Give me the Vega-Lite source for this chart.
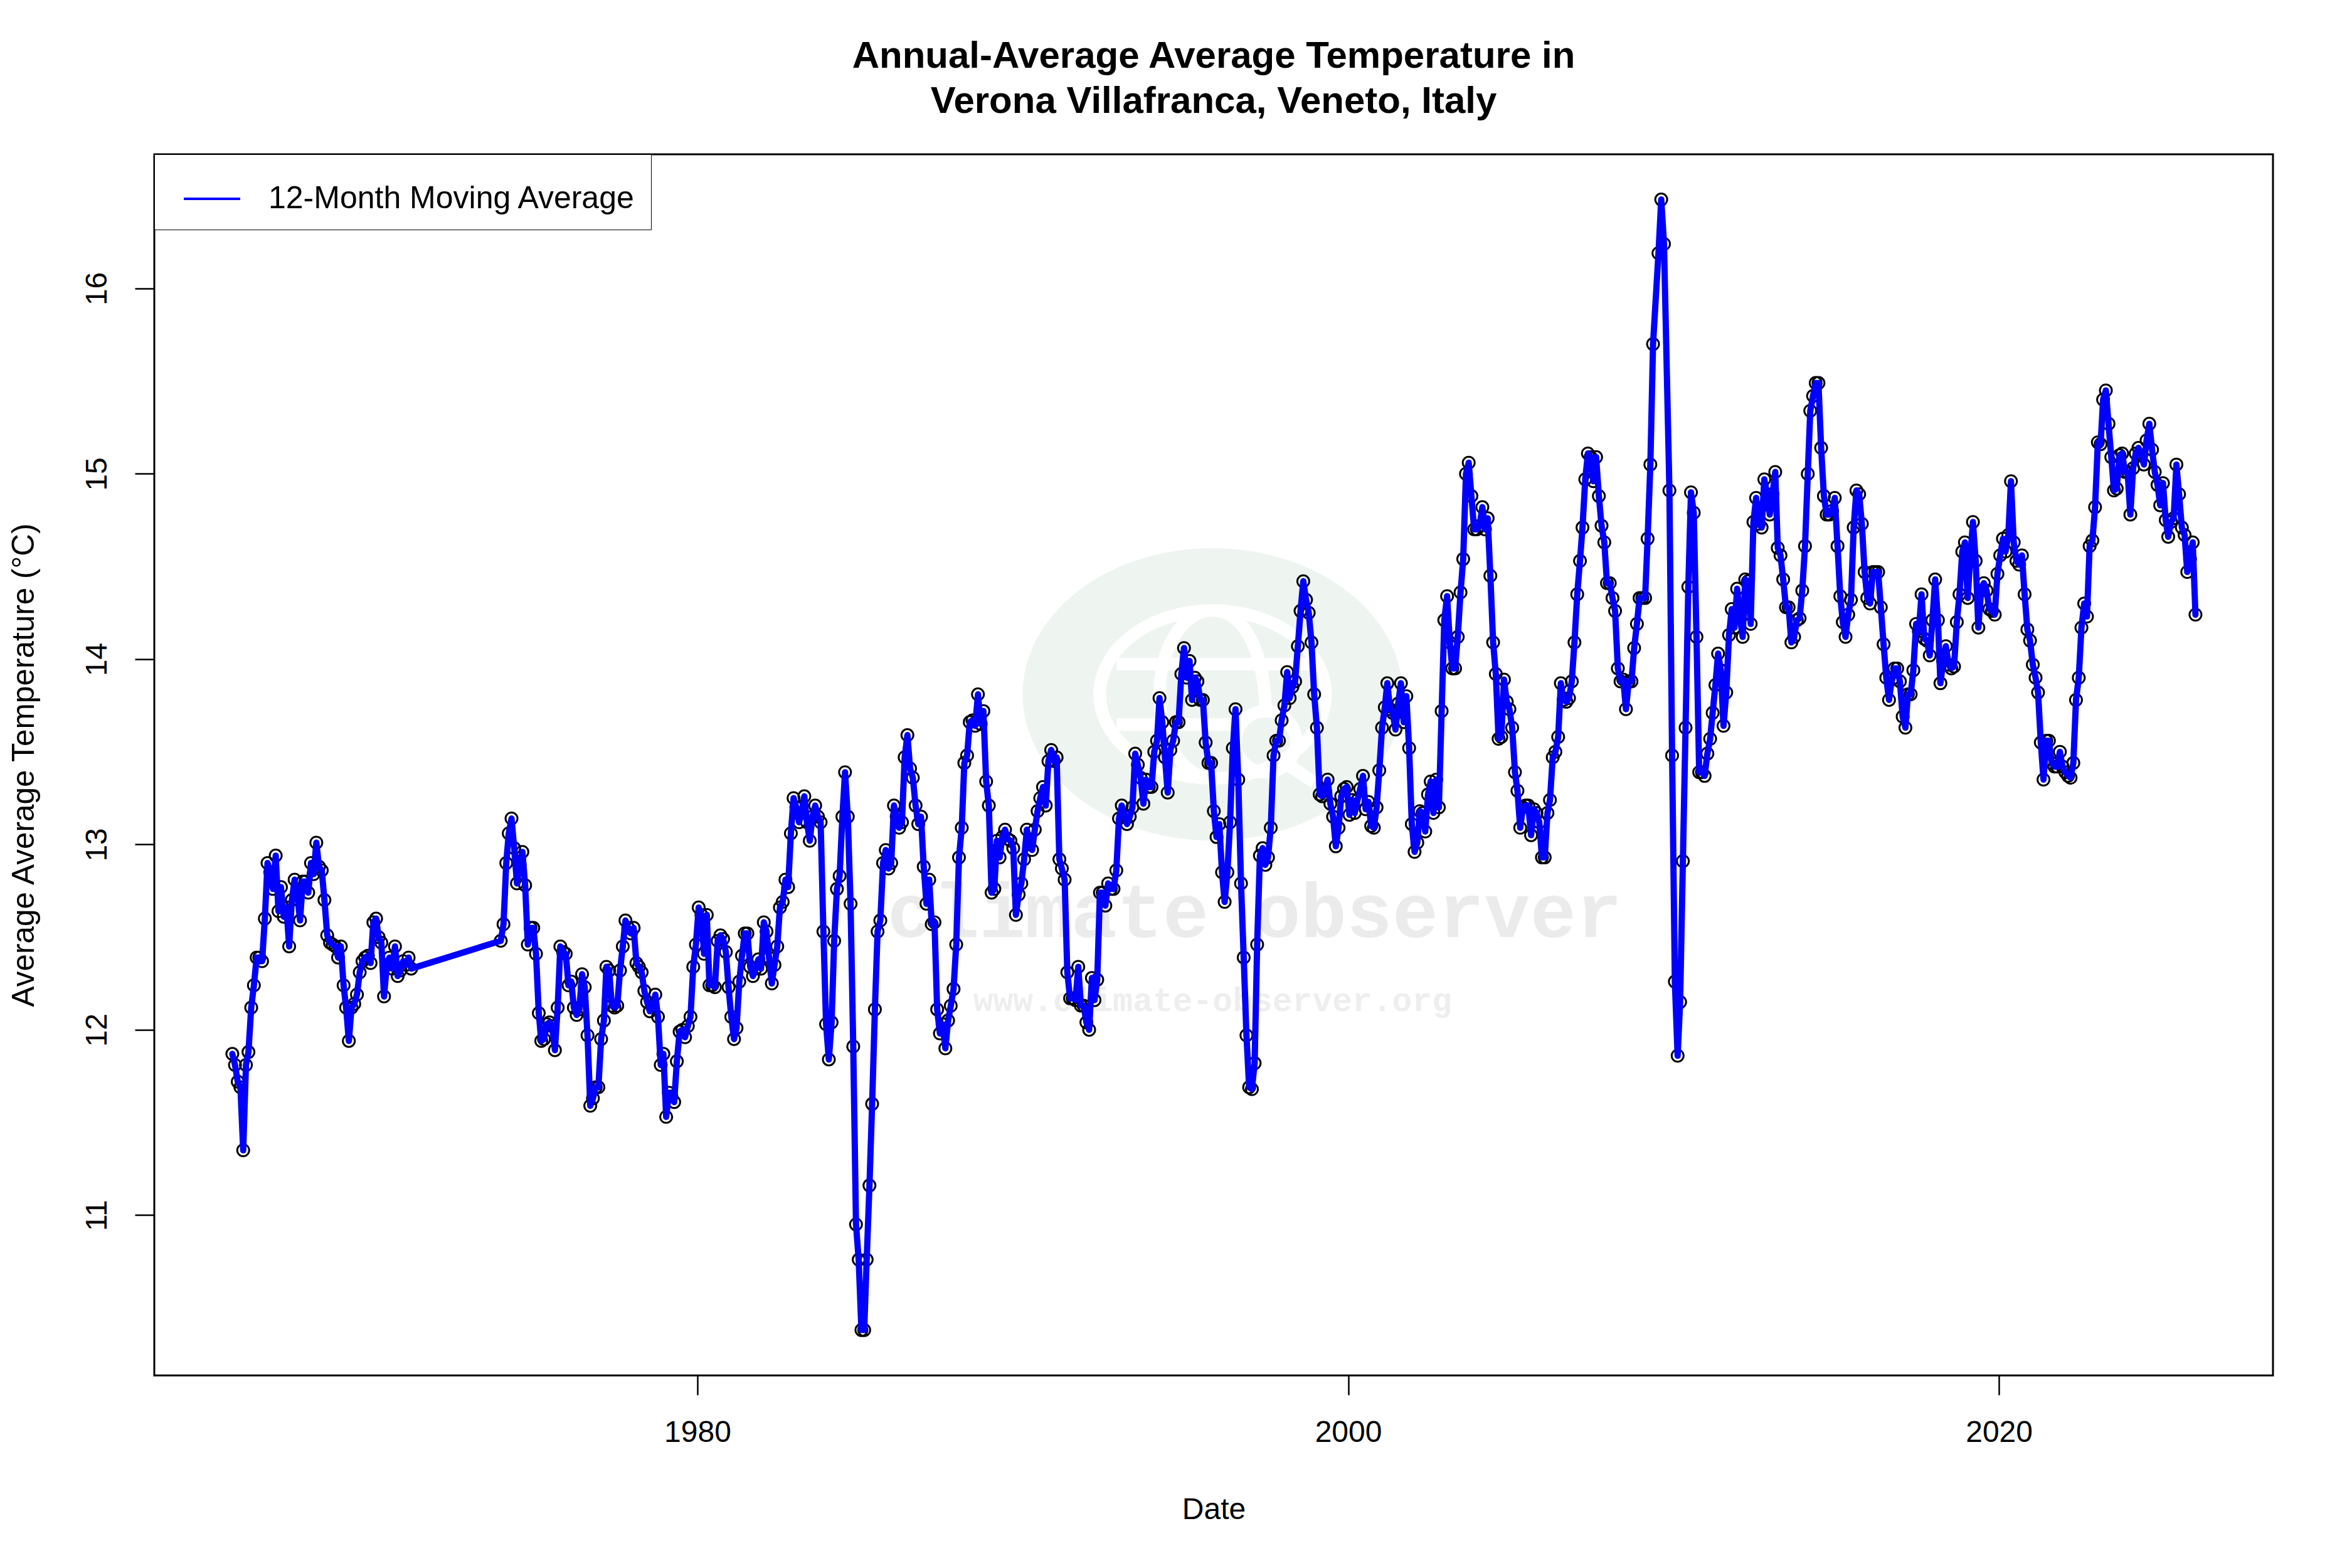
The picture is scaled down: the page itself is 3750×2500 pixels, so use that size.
{"$schema":"https://vega.github.io/schema/vega-lite/v6.json","width":3378,"height":1947,"autosize":{"type":"none"},"padding":{"left":246,"top":246,"right":126,"bottom":307},"background":"white","config":{"font":"Liberation Sans","view":{"stroke":"black","strokeWidth":3}},"title":{"text":["Annual-Average Average Temperature in","Verona Villafranca, Veneto, Italy"],"fontSize":60,"fontWeight":"bold","font":"Liberation Sans","lineHeight":72,"anchor":"middle","offset":53,"color":"black"},"datasets":{"logo":[{"d":"1995-11-01","v":13.81}],"wm1":[{"d":"1997-02-15","v":12.5,"t":"climate observer"}],"wm2":[{"d":"1995-11-01","v":12.1,"t":"www.climate-observer.org"}],"temps":[
{"d":"1965-09-15","v":11.87},{"d":"1965-10-15","v":11.81},{"d":"1965-11-15","v":11.72},{"d":"1965-12-15","v":11.69},
{"d":"1966-01-15","v":11.35},{"d":"1966-02-15","v":11.81},{"d":"1966-03-15","v":11.88},{"d":"1966-04-15","v":12.12},{"d":"1966-05-15","v":12.24},{"d":"1966-06-15","v":12.39},{"d":"1966-07-15","v":12.39},{"d":"1966-08-15","v":12.37},{"d":"1966-09-15","v":12.6},{"d":"1966-10-15","v":12.9},{"d":"1966-11-15","v":12.85},{"d":"1966-12-15","v":12.76},
{"d":"1967-01-15","v":12.94},{"d":"1967-02-15","v":12.64},{"d":"1967-03-15","v":12.77},{"d":"1967-04-15","v":12.61},{"d":"1967-05-15","v":12.66},{"d":"1967-06-15","v":12.45},{"d":"1967-07-15","v":12.7},{"d":"1967-08-15","v":12.81},{"d":"1967-09-15","v":12.73},{"d":"1967-10-15","v":12.59},{"d":"1967-11-15","v":12.8},{"d":"1967-12-15","v":12.8},
{"d":"1968-01-15","v":12.74},{"d":"1968-02-15","v":12.9},{"d":"1968-03-15","v":12.84},{"d":"1968-04-15","v":13.01},{"d":"1968-05-15","v":12.88},{"d":"1968-06-15","v":12.86},{"d":"1968-07-15","v":12.7},{"d":"1968-08-15","v":12.51},{"d":"1968-09-15","v":12.47},{"d":"1968-10-15","v":12.46},{"d":"1968-11-15","v":12.45},{"d":"1968-12-15","v":12.39},
{"d":"1969-01-15","v":12.45},{"d":"1969-02-15","v":12.24},{"d":"1969-03-15","v":12.12},{"d":"1969-04-15","v":11.94},{"d":"1969-05-15","v":12.12},{"d":"1969-06-15","v":12.14},{"d":"1969-07-15","v":12.19},{"d":"1969-08-15","v":12.31},{"d":"1969-09-15","v":12.37},{"d":"1969-10-15","v":12.39},{"d":"1969-11-15","v":12.4},{"d":"1969-12-15","v":12.36},
{"d":"1970-01-15","v":12.58},{"d":"1970-02-15","v":12.6},{"d":"1970-03-15","v":12.5},{"d":"1970-04-15","v":12.47},{"d":"1970-05-15","v":12.18},{"d":"1970-06-15","v":12.35},{"d":"1970-07-15","v":12.39},{"d":"1970-08-15","v":12.33},{"d":"1970-09-15","v":12.45},{"d":"1970-10-15","v":12.29},{"d":"1970-11-15","v":12.32},{"d":"1970-12-15","v":12.37},
{"d":"1971-01-15","v":12.35},{"d":"1971-02-15","v":12.39},{"d":"1971-03-15","v":12.33},
{"d":"1973-12-15","v":12.48},
{"d":"1974-01-15","v":12.57},{"d":"1974-02-15","v":12.9},{"d":"1974-03-15","v":13.06},{"d":"1974-04-15","v":13.14},{"d":"1974-05-15","v":12.98},{"d":"1974-06-15","v":12.79},{"d":"1974-07-15","v":12.89},{"d":"1974-08-15","v":12.96},{"d":"1974-09-15","v":12.78},{"d":"1974-10-15","v":12.46},{"d":"1974-11-15","v":12.55},{"d":"1974-12-15","v":12.55},
{"d":"1975-01-15","v":12.41},{"d":"1975-02-15","v":12.09},{"d":"1975-03-15","v":11.94},{"d":"1975-04-15","v":11.95},{"d":"1975-05-15","v":12.03},{"d":"1975-06-15","v":12.04},{"d":"1975-07-15","v":12.02},{"d":"1975-08-15","v":11.89},{"d":"1975-09-15","v":12.12},{"d":"1975-10-15","v":12.45},{"d":"1975-11-15","v":12.42},{"d":"1975-12-15","v":12.41},
{"d":"1976-01-15","v":12.24},{"d":"1976-02-15","v":12.26},{"d":"1976-03-15","v":12.12},{"d":"1976-04-15","v":12.08},{"d":"1976-05-15","v":12.11},{"d":"1976-06-15","v":12.3},{"d":"1976-07-15","v":12.23},{"d":"1976-08-15","v":11.97},{"d":"1976-09-15","v":11.59},{"d":"1976-10-15","v":11.63},{"d":"1976-11-15","v":11.69},{"d":"1976-12-15","v":11.69},
{"d":"1977-01-15","v":11.95},{"d":"1977-02-15","v":12.05},{"d":"1977-03-15","v":12.34},{"d":"1977-04-15","v":12.32},{"d":"1977-05-15","v":12.13},{"d":"1977-06-15","v":12.12},{"d":"1977-07-15","v":12.13},{"d":"1977-08-15","v":12.32},{"d":"1977-09-15","v":12.45},{"d":"1977-10-15","v":12.59},{"d":"1977-11-15","v":12.55},{"d":"1977-12-15","v":12.52},
{"d":"1978-01-15","v":12.55},{"d":"1978-02-15","v":12.36},{"d":"1978-03-15","v":12.34},{"d":"1978-04-15","v":12.31},{"d":"1978-05-15","v":12.21},{"d":"1978-06-15","v":12.15},{"d":"1978-07-15","v":12.1},{"d":"1978-08-15","v":12.13},{"d":"1978-09-15","v":12.19},{"d":"1978-10-15","v":12.07},{"d":"1978-11-15","v":11.81},{"d":"1978-12-15","v":11.87},
{"d":"1979-01-15","v":11.53},{"d":"1979-02-15","v":11.66},{"d":"1979-03-15","v":11.64},{"d":"1979-04-15","v":11.61},{"d":"1979-05-15","v":11.83},{"d":"1979-06-15","v":11.99},{"d":"1979-07-15","v":12.0},{"d":"1979-08-15","v":11.96},{"d":"1979-09-15","v":12.02},{"d":"1979-10-15","v":12.07},{"d":"1979-11-15","v":12.34},{"d":"1979-12-15","v":12.46},
{"d":"1980-01-15","v":12.66},{"d":"1980-02-15","v":12.62},{"d":"1980-03-15","v":12.41},{"d":"1980-04-15","v":12.62},{"d":"1980-05-15","v":12.24},{"d":"1980-06-15","v":12.24},{"d":"1980-07-15","v":12.23},{"d":"1980-08-15","v":12.48},{"d":"1980-09-15","v":12.51},{"d":"1980-10-15","v":12.49},{"d":"1980-11-15","v":12.42},{"d":"1980-12-15","v":12.23},
{"d":"1981-01-15","v":12.07},{"d":"1981-02-15","v":11.95},{"d":"1981-03-15","v":12.01},{"d":"1981-04-15","v":12.26},{"d":"1981-05-15","v":12.4},{"d":"1981-06-15","v":12.52},{"d":"1981-07-15","v":12.52},{"d":"1981-08-15","v":12.34},{"d":"1981-09-15","v":12.29},{"d":"1981-10-15","v":12.33},{"d":"1981-11-15","v":12.38},{"d":"1981-12-15","v":12.33},
{"d":"1982-01-15","v":12.58},{"d":"1982-02-15","v":12.53},{"d":"1982-03-15","v":12.39},{"d":"1982-04-15","v":12.25},{"d":"1982-05-15","v":12.35},{"d":"1982-06-15","v":12.45},{"d":"1982-07-15","v":12.66},{"d":"1982-08-15","v":12.69},{"d":"1982-09-15","v":12.81},{"d":"1982-10-15","v":12.77},{"d":"1982-11-15","v":13.06},{"d":"1982-12-15","v":13.25},
{"d":"1983-01-15","v":13.2},{"d":"1983-02-15","v":13.12},{"d":"1983-03-15","v":13.17},{"d":"1983-04-15","v":13.26},{"d":"1983-05-15","v":13.12},{"d":"1983-06-15","v":13.02},{"d":"1983-07-15","v":13.15},{"d":"1983-08-15","v":13.21},{"d":"1983-09-15","v":13.15},{"d":"1983-10-15","v":13.12},{"d":"1983-11-15","v":12.53},{"d":"1983-12-15","v":12.03},
{"d":"1984-01-15","v":11.84},{"d":"1984-02-15","v":12.04},{"d":"1984-03-15","v":12.48},{"d":"1984-04-15","v":12.76},{"d":"1984-05-15","v":12.83},{"d":"1984-06-15","v":13.15},{"d":"1984-07-15","v":13.39},{"d":"1984-08-15","v":13.15},{"d":"1984-09-15","v":12.68},{"d":"1984-10-15","v":11.91},{"d":"1984-11-15","v":10.95},{"d":"1984-12-15","v":10.76},
{"d":"1985-01-15","v":10.38},{"d":"1985-02-15","v":10.38},{"d":"1985-03-15","v":10.76},{"d":"1985-04-15","v":11.16},{"d":"1985-05-15","v":11.6},{"d":"1985-06-15","v":12.11},{"d":"1985-07-15","v":12.53},{"d":"1985-08-15","v":12.59},{"d":"1985-09-15","v":12.9},{"d":"1985-10-15","v":12.97},{"d":"1985-11-15","v":12.87},{"d":"1985-12-15","v":12.9},
{"d":"1986-01-15","v":13.21},{"d":"1986-02-15","v":13.15},{"d":"1986-03-15","v":13.09},{"d":"1986-04-15","v":13.12},{"d":"1986-05-15","v":13.47},{"d":"1986-06-15","v":13.59},{"d":"1986-07-15","v":13.41},{"d":"1986-08-15","v":13.36},{"d":"1986-09-15","v":13.21},{"d":"1986-10-15","v":13.11},{"d":"1986-11-15","v":13.15},{"d":"1986-12-15","v":12.88},
{"d":"1987-01-15","v":12.68},{"d":"1987-02-15","v":12.81},{"d":"1987-03-15","v":12.57},{"d":"1987-04-15","v":12.58},{"d":"1987-05-15","v":12.11},{"d":"1987-06-15","v":11.98},{"d":"1987-07-15","v":12.03},{"d":"1987-08-15","v":11.9},{"d":"1987-09-15","v":12.05},{"d":"1987-10-15","v":12.13},{"d":"1987-11-15","v":12.22},{"d":"1987-12-15","v":12.46},
{"d":"1988-01-15","v":12.93},{"d":"1988-02-15","v":13.09},{"d":"1988-03-15","v":13.44},{"d":"1988-04-15","v":13.48},{"d":"1988-05-15","v":13.66},{"d":"1988-06-15","v":13.67},{"d":"1988-07-15","v":13.64},{"d":"1988-08-15","v":13.81},{"d":"1988-09-15","v":13.65},{"d":"1988-10-15","v":13.72},{"d":"1988-11-15","v":13.34},{"d":"1988-12-15","v":13.21},
{"d":"1989-01-15","v":12.74},{"d":"1989-02-15","v":12.76},{"d":"1989-03-15","v":13.02},{"d":"1989-04-15","v":12.93},{"d":"1989-05-15","v":13.04},{"d":"1989-06-15","v":13.08},{"d":"1989-07-15","v":13.03},{"d":"1989-08-15","v":13.02},{"d":"1989-09-15","v":12.98},{"d":"1989-10-15","v":12.62},{"d":"1989-11-15","v":12.73},{"d":"1989-12-15","v":12.79},
{"d":"1990-01-15","v":12.92},{"d":"1990-02-15","v":13.08},{"d":"1990-03-15","v":13.0},{"d":"1990-04-15","v":12.97},{"d":"1990-05-15","v":13.08},{"d":"1990-06-15","v":13.18},{"d":"1990-07-15","v":13.25},{"d":"1990-08-15","v":13.31},{"d":"1990-09-15","v":13.21},{"d":"1990-10-15","v":13.45},{"d":"1990-11-15","v":13.51},{"d":"1990-12-15","v":13.45},
{"d":"1991-01-15","v":13.47},{"d":"1991-02-15","v":12.92},{"d":"1991-03-15","v":12.87},{"d":"1991-04-15","v":12.81},{"d":"1991-05-15","v":12.31},{"d":"1991-06-15","v":12.17},{"d":"1991-07-15","v":12.17},{"d":"1991-08-15","v":12.16},{"d":"1991-09-15","v":12.34},{"d":"1991-10-15","v":12.13},{"d":"1991-11-15","v":12.13},{"d":"1991-12-15","v":12.04},
{"d":"1992-01-15","v":12.0},{"d":"1992-02-15","v":12.28},{"d":"1992-03-15","v":12.16},{"d":"1992-04-15","v":12.27},{"d":"1992-05-15","v":12.74},{"d":"1992-06-15","v":12.74},{"d":"1992-07-15","v":12.67},{"d":"1992-08-15","v":12.79},{"d":"1992-09-15","v":12.76},{"d":"1992-10-15","v":12.76},{"d":"1992-11-15","v":12.86},{"d":"1992-12-15","v":13.14},
{"d":"1993-01-15","v":13.21},{"d":"1993-02-15","v":13.16},{"d":"1993-03-15","v":13.11},{"d":"1993-04-15","v":13.15},{"d":"1993-05-15","v":13.2},{"d":"1993-06-15","v":13.49},{"d":"1993-07-15","v":13.43},{"d":"1993-08-15","v":13.36},{"d":"1993-09-15","v":13.22},{"d":"1993-10-15","v":13.35},{"d":"1993-11-15","v":13.31},{"d":"1993-12-15","v":13.31},
{"d":"1994-01-15","v":13.5},{"d":"1994-02-15","v":13.56},{"d":"1994-03-15","v":13.79},{"d":"1994-04-15","v":13.66},{"d":"1994-05-15","v":13.47},{"d":"1994-06-15","v":13.28},{"d":"1994-07-15","v":13.51},{"d":"1994-08-15","v":13.56},{"d":"1994-09-15","v":13.66},{"d":"1994-10-15","v":13.66},{"d":"1994-11-15","v":13.92},{"d":"1994-12-15","v":14.06},
{"d":"1995-01-15","v":13.9},{"d":"1995-02-15","v":13.99},{"d":"1995-03-15","v":13.78},{"d":"1995-04-15","v":13.9},{"d":"1995-05-15","v":13.88},{"d":"1995-06-15","v":13.78},{"d":"1995-07-15","v":13.78},{"d":"1995-08-15","v":13.55},{"d":"1995-09-15","v":13.44},{"d":"1995-10-15","v":13.44},{"d":"1995-11-15","v":13.18},{"d":"1995-12-15","v":13.04},
{"d":"1996-01-15","v":13.11},{"d":"1996-02-15","v":12.85},{"d":"1996-03-15","v":12.69},{"d":"1996-04-15","v":12.85},{"d":"1996-05-15","v":13.12},{"d":"1996-06-15","v":13.52},{"d":"1996-07-15","v":13.73},{"d":"1996-08-15","v":13.35},{"d":"1996-09-15","v":12.79},{"d":"1996-10-15","v":12.39},{"d":"1996-11-15","v":11.97},{"d":"1996-12-15","v":11.69},
{"d":"1997-01-15","v":11.68},{"d":"1997-02-15","v":11.82},{"d":"1997-03-15","v":12.46},{"d":"1997-04-15","v":12.94},{"d":"1997-05-15","v":12.98},{"d":"1997-06-15","v":12.89},{"d":"1997-07-15","v":12.93},{"d":"1997-08-15","v":13.09},{"d":"1997-09-15","v":13.48},{"d":"1997-10-15","v":13.56},{"d":"1997-11-15","v":13.56},{"d":"1997-12-15","v":13.67},
{"d":"1998-01-15","v":13.75},{"d":"1998-02-15","v":13.93},{"d":"1998-03-15","v":13.79},{"d":"1998-04-15","v":13.85},{"d":"1998-05-15","v":13.88},{"d":"1998-06-15","v":14.07},{"d":"1998-07-15","v":14.26},{"d":"1998-08-15","v":14.42},{"d":"1998-09-15","v":14.32},{"d":"1998-10-15","v":14.25},{"d":"1998-11-15","v":14.09},{"d":"1998-12-15","v":13.81},
{"d":"1999-01-15","v":13.63},{"d":"1999-02-15","v":13.27},{"d":"1999-03-15","v":13.26},{"d":"1999-04-15","v":13.29},{"d":"1999-05-15","v":13.35},{"d":"1999-06-15","v":13.22},{"d":"1999-07-15","v":13.15},{"d":"1999-08-15","v":12.99},{"d":"1999-09-15","v":13.09},{"d":"1999-10-15","v":13.26},{"d":"1999-11-15","v":13.3},{"d":"1999-12-15","v":13.31},
{"d":"2000-01-15","v":13.16},{"d":"2000-02-15","v":13.24},{"d":"2000-03-15","v":13.17},{"d":"2000-04-15","v":13.24},{"d":"2000-05-15","v":13.3},{"d":"2000-06-15","v":13.37},{"d":"2000-07-15","v":13.19},{"d":"2000-08-15","v":13.23},{"d":"2000-09-15","v":13.1},{"d":"2000-10-15","v":13.09},{"d":"2000-11-15","v":13.2},{"d":"2000-12-15","v":13.4},
{"d":"2001-01-15","v":13.63},{"d":"2001-02-15","v":13.74},{"d":"2001-03-15","v":13.87},{"d":"2001-04-15","v":13.73},{"d":"2001-05-15","v":13.71},{"d":"2001-06-15","v":13.62},{"d":"2001-07-15","v":13.76},{"d":"2001-08-15","v":13.87},{"d":"2001-09-15","v":13.66},{"d":"2001-10-15","v":13.8},{"d":"2001-11-15","v":13.52},{"d":"2001-12-15","v":13.11},
{"d":"2002-01-15","v":12.96},{"d":"2002-02-15","v":13.01},{"d":"2002-03-15","v":13.18},{"d":"2002-04-15","v":13.17},{"d":"2002-05-15","v":13.07},{"d":"2002-06-15","v":13.27},{"d":"2002-07-15","v":13.34},{"d":"2002-08-15","v":13.17},{"d":"2002-09-15","v":13.35},{"d":"2002-10-15","v":13.2},{"d":"2002-11-15","v":13.72},{"d":"2002-12-15","v":14.21},
{"d":"2003-01-15","v":14.34},{"d":"2003-02-15","v":14.09},{"d":"2003-03-15","v":13.95},{"d":"2003-04-15","v":13.95},{"d":"2003-05-15","v":14.12},{"d":"2003-06-15","v":14.36},{"d":"2003-07-15","v":14.54},{"d":"2003-08-15","v":15.0},{"d":"2003-09-15","v":15.06},{"d":"2003-10-15","v":14.88},{"d":"2003-11-15","v":14.7},{"d":"2003-12-15","v":14.7},
{"d":"2004-01-15","v":14.72},{"d":"2004-02-15","v":14.82},{"d":"2004-03-15","v":14.7},{"d":"2004-04-15","v":14.76},{"d":"2004-05-15","v":14.45},{"d":"2004-06-15","v":14.09},{"d":"2004-07-15","v":13.92},{"d":"2004-08-15","v":13.57},{"d":"2004-09-15","v":13.58},{"d":"2004-10-15","v":13.89},{"d":"2004-11-15","v":13.77},{"d":"2004-12-15","v":13.73},
{"d":"2005-01-15","v":13.63},{"d":"2005-02-15","v":13.39},{"d":"2005-03-15","v":13.29},{"d":"2005-04-15","v":13.09},{"d":"2005-05-15","v":13.2},{"d":"2005-06-15","v":13.21},{"d":"2005-07-15","v":13.21},{"d":"2005-08-15","v":13.05},{"d":"2005-09-15","v":13.19},{"d":"2005-10-15","v":13.17},{"d":"2005-11-15","v":13.12},{"d":"2005-12-15","v":12.93},
{"d":"2006-01-15","v":12.93},{"d":"2006-02-15","v":13.17},{"d":"2006-03-15","v":13.24},{"d":"2006-04-15","v":13.47},{"d":"2006-05-15","v":13.5},{"d":"2006-06-15","v":13.58},{"d":"2006-07-15","v":13.87},{"d":"2006-08-15","v":13.78},{"d":"2006-09-15","v":13.77},{"d":"2006-10-15","v":13.79},{"d":"2006-11-15","v":13.88},{"d":"2006-12-15","v":14.09},
{"d":"2007-01-15","v":14.35},{"d":"2007-02-15","v":14.53},{"d":"2007-03-15","v":14.71},{"d":"2007-04-15","v":14.97},{"d":"2007-05-15","v":15.11},{"d":"2007-06-15","v":15.09},{"d":"2007-07-15","v":14.96},{"d":"2007-08-15","v":15.09},{"d":"2007-09-15","v":14.88},{"d":"2007-10-15","v":14.72},{"d":"2007-11-15","v":14.63},{"d":"2007-12-15","v":14.41},
{"d":"2008-01-15","v":14.41},{"d":"2008-02-15","v":14.33},{"d":"2008-03-15","v":14.26},{"d":"2008-04-15","v":13.95},{"d":"2008-05-15","v":13.88},{"d":"2008-06-15","v":13.89},{"d":"2008-07-15","v":13.73},{"d":"2008-08-15","v":13.88},{"d":"2008-09-15","v":13.88},{"d":"2008-10-15","v":14.06},{"d":"2008-11-15","v":14.19},{"d":"2008-12-15","v":14.33},
{"d":"2009-01-15","v":14.33},{"d":"2009-02-15","v":14.33},{"d":"2009-03-15","v":14.65},{"d":"2009-04-15","v":15.05},{"d":"2009-05-15","v":15.7},{"d":"2009-07-15","v":16.19},{"d":"2009-08-15","v":16.48},{"d":"2009-09-15","v":16.24},{"d":"2009-11-15","v":14.91},{"d":"2009-12-15","v":13.48},
{"d":"2010-01-15","v":12.26},{"d":"2010-02-15","v":11.86},{"d":"2010-03-15","v":12.15},{"d":"2010-04-15","v":12.91},{"d":"2010-05-15","v":13.63},{"d":"2010-06-15","v":14.39},{"d":"2010-07-15","v":14.9},{"d":"2010-08-15","v":14.79},{"d":"2010-09-15","v":14.12},{"d":"2010-10-15","v":13.39},{"d":"2010-11-15","v":13.39},{"d":"2010-12-15","v":13.37},
{"d":"2011-01-15","v":13.49},{"d":"2011-02-15","v":13.57},{"d":"2011-03-15","v":13.71},{"d":"2011-04-15","v":13.86},{"d":"2011-05-15","v":14.03},{"d":"2011-06-15","v":13.94},{"d":"2011-07-15","v":13.64},{"d":"2011-08-15","v":13.82},{"d":"2011-09-15","v":14.13},{"d":"2011-10-15","v":14.27},{"d":"2011-11-15","v":14.17},{"d":"2011-12-15","v":14.38},
{"d":"2012-01-15","v":14.23},{"d":"2012-02-15","v":14.12},{"d":"2012-03-15","v":14.43},{"d":"2012-04-15","v":14.42},{"d":"2012-05-15","v":14.19},{"d":"2012-06-15","v":14.74},{"d":"2012-07-15","v":14.87},{"d":"2012-08-15","v":14.73},{"d":"2012-09-15","v":14.71},{"d":"2012-10-15","v":14.97},{"d":"2012-11-15","v":14.89},{"d":"2012-12-15","v":14.78},
{"d":"2013-01-15","v":14.89},{"d":"2013-02-15","v":15.01},{"d":"2013-03-15","v":14.6},{"d":"2013-04-15","v":14.56},{"d":"2013-05-15","v":14.43},{"d":"2013-06-15","v":14.28},{"d":"2013-07-15","v":14.28},{"d":"2013-08-15","v":14.09},{"d":"2013-09-15","v":14.12},{"d":"2013-10-15","v":14.21},{"d":"2013-11-15","v":14.22},{"d":"2013-12-15","v":14.37},
{"d":"2014-01-15","v":14.61},{"d":"2014-02-15","v":15.0},{"d":"2014-03-15","v":15.34},{"d":"2014-04-15","v":15.42},{"d":"2014-05-15","v":15.49},{"d":"2014-06-15","v":15.49},{"d":"2014-07-15","v":15.14},{"d":"2014-08-15","v":14.88},{"d":"2014-09-15","v":14.78},{"d":"2014-10-15","v":14.78},{"d":"2014-11-15","v":14.8},{"d":"2014-12-15","v":14.87},
{"d":"2015-01-15","v":14.61},{"d":"2015-02-15","v":14.34},{"d":"2015-03-15","v":14.2},{"d":"2015-04-15","v":14.12},{"d":"2015-05-15","v":14.24},{"d":"2015-06-15","v":14.32},{"d":"2015-07-15","v":14.71},{"d":"2015-08-15","v":14.91},{"d":"2015-09-15","v":14.89},{"d":"2015-10-15","v":14.73},{"d":"2015-11-15","v":14.47},{"d":"2015-12-15","v":14.33},
{"d":"2016-01-15","v":14.3},{"d":"2016-02-15","v":14.47},{"d":"2016-03-15","v":14.47},{"d":"2016-04-15","v":14.47},{"d":"2016-05-15","v":14.28},{"d":"2016-06-15","v":14.08},{"d":"2016-07-15","v":13.9},{"d":"2016-08-15","v":13.78},{"d":"2016-09-15","v":13.89},{"d":"2016-10-15","v":13.95},{"d":"2016-11-15","v":13.95},{"d":"2016-12-15","v":13.88},
{"d":"2017-01-15","v":13.69},{"d":"2017-02-15","v":13.63},{"d":"2017-03-15","v":13.81},{"d":"2017-04-15","v":13.81},{"d":"2017-05-15","v":13.94},{"d":"2017-06-15","v":14.19},{"d":"2017-07-15","v":14.15},{"d":"2017-08-15","v":14.35},{"d":"2017-09-15","v":14.11},{"d":"2017-10-15","v":14.1},{"d":"2017-11-15","v":14.02},{"d":"2017-12-15","v":14.21},
{"d":"2018-01-15","v":14.43},{"d":"2018-02-15","v":14.21},{"d":"2018-03-15","v":13.87},{"d":"2018-04-15","v":13.99},{"d":"2018-05-15","v":14.07},{"d":"2018-06-15","v":13.97},{"d":"2018-07-15","v":13.95},{"d":"2018-08-15","v":13.96},{"d":"2018-09-15","v":14.2},{"d":"2018-10-15","v":14.35},{"d":"2018-11-15","v":14.58},{"d":"2018-12-15","v":14.63},
{"d":"2019-01-15","v":14.33},{"d":"2019-02-15","v":14.56},{"d":"2019-03-15","v":14.74},{"d":"2019-04-15","v":14.53},{"d":"2019-05-15","v":14.17},{"d":"2019-06-15","v":14.37},{"d":"2019-07-15","v":14.41},{"d":"2019-08-15","v":14.37},{"d":"2019-09-15","v":14.27},{"d":"2019-10-15","v":14.26},{"d":"2019-11-15","v":14.24},{"d":"2019-12-15","v":14.46},
{"d":"2020-01-15","v":14.56},{"d":"2020-02-15","v":14.65},{"d":"2020-03-15","v":14.58},{"d":"2020-04-15","v":14.67},{"d":"2020-05-15","v":14.96},{"d":"2020-06-15","v":14.63},{"d":"2020-07-15","v":14.53},{"d":"2020-08-15","v":14.51},{"d":"2020-09-15","v":14.56},{"d":"2020-10-15","v":14.35},{"d":"2020-11-15","v":14.16},{"d":"2020-12-15","v":14.1},
{"d":"2021-01-15","v":13.97},{"d":"2021-02-15","v":13.9},{"d":"2021-03-15","v":13.82},{"d":"2021-04-15","v":13.55},{"d":"2021-05-15","v":13.35},{"d":"2021-06-15","v":13.56},{"d":"2021-07-15","v":13.56},{"d":"2021-08-15","v":13.44},{"d":"2021-09-15","v":13.42},{"d":"2021-10-15","v":13.42},{"d":"2021-11-15","v":13.5},{"d":"2021-12-15","v":13.42},
{"d":"2022-01-15","v":13.39},{"d":"2022-02-15","v":13.37},{"d":"2022-03-15","v":13.36},{"d":"2022-04-15","v":13.44},{"d":"2022-05-15","v":13.78},{"d":"2022-06-15","v":13.9},{"d":"2022-07-15","v":14.17},{"d":"2022-08-15","v":14.3},{"d":"2022-09-15","v":14.23},{"d":"2022-10-15","v":14.61},{"d":"2022-11-15","v":14.64},{"d":"2022-12-15","v":14.82},
{"d":"2023-01-15","v":15.17},{"d":"2023-02-15","v":15.16},{"d":"2023-03-15","v":15.4},{"d":"2023-04-15","v":15.45},{"d":"2023-05-15","v":15.27},{"d":"2023-06-15","v":15.09},{"d":"2023-07-15","v":14.91},{"d":"2023-08-15","v":14.92},{"d":"2023-09-15","v":15.1},{"d":"2023-10-15","v":15.11},{"d":"2023-11-15","v":15.01},{"d":"2023-12-15","v":15.01},
{"d":"2024-01-15","v":14.78},{"d":"2024-02-15","v":15.03},{"d":"2024-03-15","v":15.11},{"d":"2024-04-15","v":15.14},{"d":"2024-05-15","v":15.1},{"d":"2024-06-15","v":15.05},{"d":"2024-07-15","v":15.18},{"d":"2024-08-15","v":15.27},{"d":"2024-09-15","v":15.13},{"d":"2024-10-15","v":15.01},{"d":"2024-11-15","v":14.94},{"d":"2024-12-15","v":14.83},
{"d":"2025-01-15","v":14.95},{"d":"2025-02-15","v":14.75},{"d":"2025-03-15","v":14.66},{"d":"2025-04-15","v":14.74},{"d":"2025-05-15","v":14.76},{"d":"2025-06-15","v":15.05},{"d":"2025-07-15","v":14.89},{"d":"2025-08-15","v":14.71},{"d":"2025-09-15","v":14.67},{"d":"2025-10-15","v":14.47},{"d":"2025-11-15","v":14.54},{"d":"2025-12-15","v":14.63},
{"d":"2026-01-15","v":14.24}
]},
"encoding":{"x":{"field":"d","type":"temporal","scale":{"type":"utc","domain":["1963-04-23","2028-06-03"],"nice":false},"axis":{"title":"Date","values":["1980-01-01","2000-01-01","2020-01-01"],"format":"%Y","formatType":"utc","grid":false,"domain":false,"tickColor":"black","tickSize":31,"tickWidth":2.5,"labelFontSize":48,"labelColor":"black","labelPadding":36,"titleFontSize":48,"titleFontWeight":"normal","titleColor":"black","titlePadding":75}},"y":{"field":"v","type":"quantitative","scale":{"domain":[10.135,16.724],"nice":false,"zero":false},"axis":{"title":"Average Average Temperature (°C)","values":[11,12,13,14,15,16],"grid":false,"domain":false,"tickColor":"black","tickSize":31,"tickWidth":2.5,"labelFontSize":48,"labelColor":"black","labelAngle":-90,"labelAlign":"center","labelBaseline":"bottom","labelPadding":36,"titleFontSize":49.5,"titleFontWeight":"normal","titleColor":"black","titlePadding":68}}},
"layer":[
{"data":{"name":"logo"},"mark":{"type":"point","filled":true,"opacity":1,"size":367236,"color":"#eef4f0","shape":"M-1,0C-1,-0.425,-0.552,-0.769,0,-0.769C0.552,-0.769,1,-0.425,1,0C1,0.425,0.552,0.769,0,0.769C-0.552,0.769,-1,0.425,-1,0Z"}},
{"data":{"name":"logo"},"mark":{"type":"point","filled":false,"opacity":1,"size":129600,"stroke":"white","strokeWidth":20,"shape":"M-1,0C-1,-0.41,-0.55,-0.744,0,-0.744C0.55,-0.744,1,-0.41,1,0C1,0.41,0.55,0.744,0,0.744C-0.55,0.744,-1,0.41,-1,0ZM0.47,0.2C0.47,-0.41,0.26,-0.744,0,-0.744C-0.26,-0.744,-0.47,-0.41,-0.47,0C-0.47,0.41,-0.26,0.744,0,0.744M-0.85,-0.267L0.85,-0.267M-0.85,0.267L0.15,0.267M0.2,0.42C0.2,0.27,0.32,0.15,0.47,0.15C0.62,0.15,0.74,0.27,0.74,0.42C0.74,0.57,0.62,0.69,0.47,0.69C0.32,0.69,0.2,0.57,0.2,0.42ZM0.66,0.62L0.9,0.78"}},
{"data":{"name":"wm1"},"mark":{"type":"text","font":"Liberation Mono","fontWeight":"bold","fontSize":122,"color":"#ebebeb","align":"center","baseline":"alphabetic"},"encoding":{"text":{"field":"t"}}},
{"data":{"name":"wm2"},"mark":{"type":"text","font":"Liberation Mono","fontWeight":"bold","fontSize":53,"color":"#eeeeee","align":"center","baseline":"alphabetic"},"encoding":{"text":{"field":"t"}}},
{"data":{"name":"temps"},"mark":{"type":"point","shape":"circle","filled":false,"opacity":1,"size":363,"stroke":"black","strokeWidth":3}},
{"data":{"name":"temps"},"mark":{"type":"line","strokeWidth":10,"strokeJoin":"round","strokeCap":"round"},"encoding":{"color":{"datum":"12-Month Moving Average","type":"nominal","scale":{"range":["#0000ff"]},"legend":{"title":null,"orient":"top-left","offset":0,"strokeColor":"black","fillColor":"white","padding":24,"symbolType":"stroke","symbolSize":8100,"symbolStrokeWidth":4,"symbolOffset":21,"labelFontSize":50,"labelLimit":1000,"labelColor":"black","labelOffset":43}}}}
]}
